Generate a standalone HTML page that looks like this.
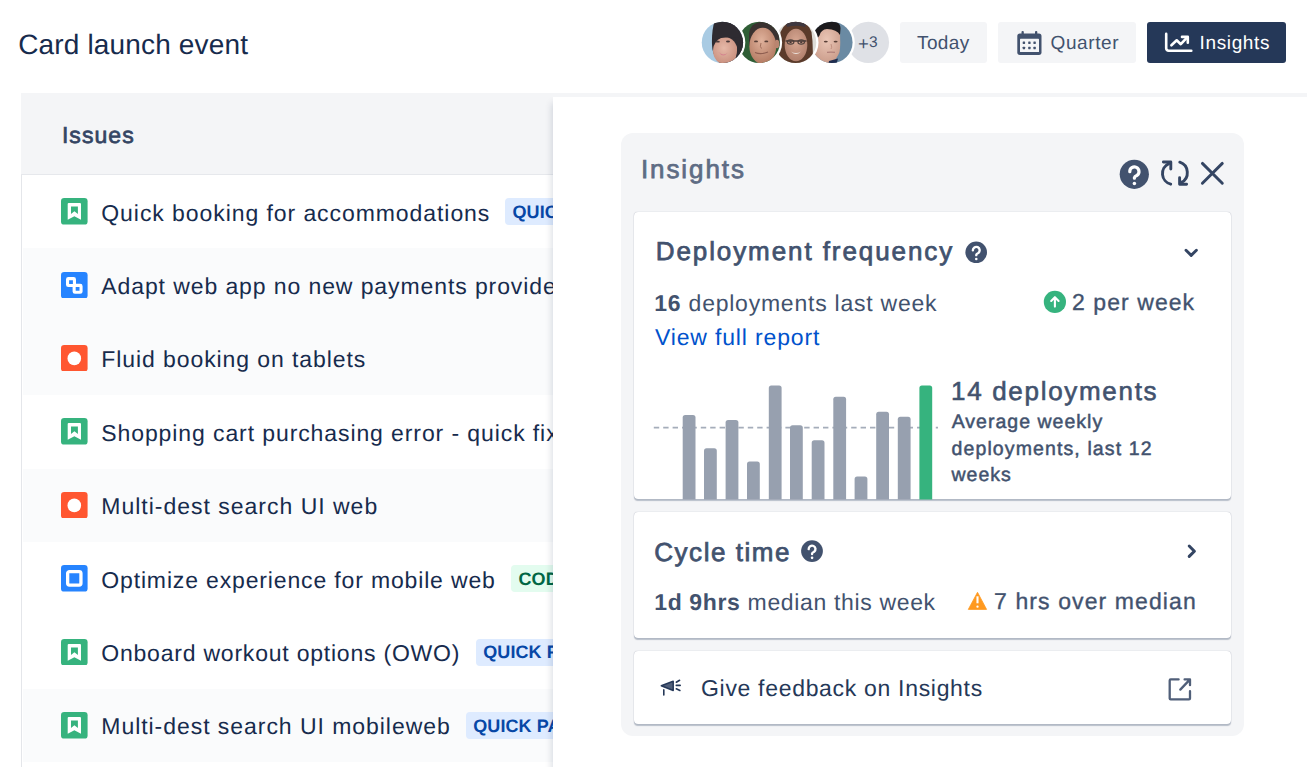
<!DOCTYPE html>
<html><head><meta charset="utf-8">
<style>
*{box-sizing:border-box;margin:0;padding:0}
html,body{width:1307px;height:767px;overflow:hidden;background:#fff}
body{position:relative;text-rendering:geometricPrecision;font-family:"Liberation Sans",Arial,sans-serif;color:#172B4D}
.a{position:absolute;white-space:nowrap}
.t{position:absolute;white-space:nowrap;line-height:1}
.btn{position:absolute;top:22px;height:41.4px;border-radius:3px;background:#F4F5F7}
#list{position:absolute;left:21px;top:93px;width:1286px;height:674px;border-left:1.5px solid #E4E6EA;background:#fff}
#lhead{position:absolute;left:21px;top:93px;width:1286px;height:82px;background:#F4F5F7;border-bottom:1.8px solid #E6E8EC}
.rowbg{position:absolute;left:22.5px;width:540px;height:73.4px;background:#FAFBFC}
.loz{position:absolute;width:160px;height:27px;border-radius:4px;background:#DEEBFF;color:#0747A6;font-weight:bold;font-size:18px;line-height:1}
.loz.green{background:#E3FCEF;color:#006644}
.loz span{position:absolute;white-space:nowrap;top:4.8px;left:7.5px;letter-spacing:0.1px}
#rp{position:absolute;left:553px;top:97px;width:760px;height:680px;background:#fff}
#rpsh{position:absolute;left:533px;top:97px;width:20px;height:680px;overflow:hidden}
#rpsh div{position:absolute;left:20px;top:6px;width:50px;height:700px;box-shadow:-1px 0 7px rgba(9,30,66,0.16)}
#ins{position:absolute;left:621px;top:132.6px;width:622.8px;height:603.4px;background:#F4F5F7;border-radius:12px}
.card{position:absolute;left:634px;width:596.8px;background:#fff;border-radius:4px;box-shadow:0 1.5px 1px rgba(9,30,66,0.25),0 0 1px rgba(9,30,66,0.35)}
</style></head><body>
<div class="t" style="left:18.20px;top:31.30px;font-size:28px;letter-spacing:0.156px;color:#172B4D;">Card launch event</div>

<!-- avatars -->
<svg class="a" style="left:698px;top:17px" width="196" height="50" viewBox="698 17 196 50">
  <defs>
    <clipPath id="c1"><circle cx="722.4" cy="42.4" r="20.65"/></clipPath>
    <clipPath id="c2"><circle cx="759.2" cy="42.4" r="20.65"/></clipPath>
    <clipPath id="c3"><circle cx="795.6" cy="42.4" r="20.65"/></clipPath>
    <clipPath id="c4"><circle cx="831.9" cy="42.4" r="20.65"/></clipPath>
    <radialGradient id="sk1" cx="0.45" cy="0.4" r="0.6"><stop offset="0" stop-color="#E6B9A8"/><stop offset="1" stop-color="#C98F7E"/></radialGradient>
    <radialGradient id="sk2" cx="0.45" cy="0.35" r="0.65"><stop offset="0" stop-color="#E0B29C"/><stop offset="1" stop-color="#B37A62"/></radialGradient>
    <radialGradient id="sk3" cx="0.5" cy="0.4" r="0.6"><stop offset="0" stop-color="#D8A893"/><stop offset="1" stop-color="#B07F6C"/></radialGradient>
    <radialGradient id="sk4" cx="0.5" cy="0.35" r="0.65"><stop offset="0" stop-color="#EAC6B6"/><stop offset="1" stop-color="#C99A88"/></radialGradient>
  </defs>
  <circle cx="868.4" cy="42.4" r="20.65" fill="#DFE1E6"/>
  <circle cx="831.9" cy="42.4" r="22.9" fill="#fff"/>
  <g clip-path="url(#c4)">
    <rect x="810" y="20" width="45" height="45" fill="#6A8AA3"/>
    <path d="M813 64 L813 38 Q814 29 820 27 L839.5 27 Q841 45 839.5 52 Q836 61 829 65 Z" fill="url(#sk4)"/>
    <path d="M813.5 37 Q812.5 28 817 24.5 Q825 20.5 835 21.5 Q841 23.5 840.5 29 L840 35 Q837 29.5 827 29 Q821 29.5 819.5 35.5 L816 40 Z" fill="#1C1A1D"/>
    <ellipse cx="825.8" cy="41.6" rx="2" ry="0.9" fill="#5A4038"/>
    <ellipse cx="835.6" cy="41.6" rx="2" ry="0.9" fill="#5A4038"/>
    <path d="M831 44 Q832.5 48 831 49" stroke="#C08F80" stroke-width="1" fill="none"/>
    <path d="M827 52.4 Q831 51.8 835 52.4" stroke="#B07F78" stroke-width="1.2" fill="none"/>
    <path d="M829 61 L838 58.5 L836 66 L828 66Z" fill="#1F2D4F"/>
  </g>
  <circle cx="795.6" cy="42.4" r="22.9" fill="#fff"/>
  <g clip-path="url(#c3)">
    <rect x="773" y="20" width="45" height="45" fill="#DEDCD7"/>
    <path d="M779.5 64 Q778 45 780.5 32 Q784.5 21.5 796 21 Q808.5 21.5 811.5 32 Q813.5 45 812.5 64 Z" fill="#5A3A2A"/>
    <path d="M786 23.5 Q796 19.5 806 23.5 L805 27 Q796 24.5 787 27Z" fill="#3E3840"/>
    <ellipse cx="796" cy="45" rx="11.3" ry="16.2" fill="url(#sk3)"/>
    <path d="M785.5 41 H806.5" stroke="#4A3A36" stroke-width="1.6"/>
    <ellipse cx="790.6" cy="42" rx="3.3" ry="2.1" fill="none" stroke="#4E403C" stroke-width="1.1"/>
    <ellipse cx="801.2" cy="42" rx="3.3" ry="2.1" fill="none" stroke="#4E403C" stroke-width="1.1"/>
    <ellipse cx="790.6" cy="42.2" rx="1.2" ry="0.8" fill="#3A2E2E"/>
    <ellipse cx="801.2" cy="42.2" rx="1.2" ry="0.8" fill="#3A2E2E"/>
    <path d="M791 51.5 Q796 54.5 801 51.5 Q796 56.5 791 51.5Z" fill="#EDE3DD"/>
  </g>
  <circle cx="759.2" cy="42.4" r="22.9" fill="#fff"/>
  <g clip-path="url(#c2)">
    <rect x="737" y="20" width="45" height="45" fill="#2F5E36"/>
    <path d="M749 34 Q750 22.5 762 22 Q776 22.5 779 34 L779.5 46 L749 46Z" fill="#3A3230"/>
    <ellipse cx="762.8" cy="46" rx="13.4" ry="18.2" fill="url(#sk2)"/>
    <ellipse cx="777" cy="44" rx="2.3" ry="4.2" fill="#B98570"/>
    <ellipse cx="756" cy="41.4" rx="2" ry="0.9" fill="#5A4038"/>
    <ellipse cx="766.3" cy="41.4" rx="2" ry="0.9" fill="#5A4038"/>
    <path d="M761 43 Q759.5 47 761.5 48.5" stroke="#A06E5C" stroke-width="1" fill="none"/>
    <path d="M755 52.5 Q761 55 768 52" stroke="#8E5E50" stroke-width="1.1" fill="none"/>
  </g>
  <circle cx="722.4" cy="42.4" r="22.9" fill="#fff"/>
  <g clip-path="url(#c1)">
    <rect x="700" y="20" width="45" height="45" fill="#A9CBE3"/>
    <path d="M714.7 21 C711.5 30 711.5 44 712.6 50 C714 56 717 61 722 65 L746 65 L746 20 Z" fill="#2E2B31"/>
    <ellipse cx="725.2" cy="50.8" rx="12.2" ry="13.6" fill="url(#sk1)"/>
    <path d="M712.5 40 Q714 23 727 22 Q739 23 739.5 38 L737 37.6 Q726 35.5 714 39.5 Z" fill="#2E2B31"/>
    <path d="M735.6 38 Q738.6 48 735.8 58 L746 58 L746 38 Z" fill="#2E2B31"/>
    <ellipse cx="717.8" cy="41.7" rx="2" ry="0.9" fill="#4A3A3A"/>
    <ellipse cx="728" cy="41.5" rx="2" ry="0.9" fill="#4A3A3A"/>
    <path d="M718.5 52 Q723 56.5 728 52.5 Q723 58.5 718.5 52Z" fill="#D4828F"/>
  </g>
</svg>

<div class="t" style="left:859.40px;top:34.90px;font-size:15.5px;letter-spacing:0.500px;color:#42526E;"><span style="display:inline-block;transform:translate(0px,1.9px) scale(1.2)">+</span>3</div>

<!-- buttons -->
<div class="btn" style="left:900px;width:86.5px"></div>
<div class="btn" style="left:997.5px;width:138px"></div>
<div class="btn" style="left:1146.5px;width:139.7px;background:#253858"></div>
<svg class="a" style="left:0;top:0" width="1307" height="70" viewBox="0 0 1307 70">
  <rect x="1017.3" y="33.4" width="24.2" height="21.5" rx="2.6" fill="#42526E"/>
  <rect x="1020" y="38.7" width="19" height="13.4" rx="0.6" fill="#F4F5F7"/>
  <rect x="1021.5" y="30.9" width="2.3" height="5" rx="1" fill="#42526E"/>
  <rect x="1035" y="30.9" width="2.3" height="5" rx="1" fill="#42526E"/>
  <g fill="#42526E"><rect x="1022.7" y="41.6" width="2.4" height="2.4" rx="0.4"/><rect x="1028.2" y="41.6" width="2.4" height="2.4" rx="0.4"/><rect x="1033.4" y="41.6" width="2.4" height="2.4" rx="0.4"/><rect x="1022.7" y="46.8" width="2.4" height="2.4" rx="0.4"/><rect x="1028.2" y="46.8" width="2.4" height="2.4" rx="0.4"/><rect x="1033.4" y="46.8" width="2.4" height="2.4" rx="0.4"/></g>
  <g fill="none" stroke="#fff" stroke-width="2.6" stroke-linecap="round" stroke-linejoin="round">
    <path d="M1166.2 33.9 V48.3 a2.4 2.4 0 0 0 2.4 2.4 H1191.3"/>
    <path d="M1171.4 45.3 L1176.7 40.3 L1180.8 44.2 L1187.2 37.3"/>
    <path d="M1182 36.9 H1187.8 V42.8"/>
  </g>
</svg>
<div class="t" style="left:917.00px;top:33.90px;font-size:19px;letter-spacing:0.400px;color:#42526E;">Today</div>
<div class="t" style="left:1050.50px;top:33.90px;font-size:19px;letter-spacing:0.617px;color:#42526E;">Quarter</div>
<div class="t" style="left:1199.50px;top:33.90px;font-size:19px;letter-spacing:0.643px;color:#FFFFFF;">Insights</div>

<!-- list -->
<div id="list"></div>
<svg class="a" style="left:61px;top:198.2px" width="26.6" height="26.6" viewBox="0 0 26.6 26.6"><rect width="26.6" height="26.6" rx="3.2" fill="#36B37E"/><path fill="#fff" fill-rule="evenodd" d="M7.7 5.1H19a1 1 0 0 1 1 1V21.7L13.4 18.2L6.7 21.7V6.1a1 1 0 0 1 1-1ZM10 8.4V16.1L13.4 13.2L16.9 16.1V8.4Z"/></svg>
<div class="t" style="left:101.30px;top:201.55px;font-size:23px;letter-spacing:0.929px;color:#172B4D;">Quick booking for accommodations</div>
<div class="loz" style="left:505px;top:198.3px"><span>QUICK BOOKING</span></div>
<div class="rowbg" style="top:248.4px"></div>
<svg class="a" style="left:61px;top:271.6px" width="26.6" height="26.6" viewBox="0 0 26.6 26.6"><rect width="26.6" height="26.6" rx="3.2" fill="#2684FF"/><g fill="none" stroke="#fff" stroke-width="3.1"><rect x="6.55" y="6.65" width="6.9" height="6.9" rx="0.8"/><rect x="13.15" y="13.35" width="6.9" height="6.9" rx="0.8"/></g></svg>
<div class="t" style="left:101.30px;top:274.95px;font-size:23px;letter-spacing:0.903px;color:#172B4D;">Adapt web app no new payments provider</div>
<div class="rowbg" style="top:321.8px"></div>
<svg class="a" style="left:61px;top:344.9px" width="26.6" height="26.6" viewBox="0 0 26.6 26.6"><rect width="26.6" height="26.6" rx="3.2" fill="#FF5630"/><circle cx="13.3" cy="13.4" r="6.8" fill="#fff"/></svg>
<div class="t" style="left:101.30px;top:348.35px;font-size:23px;letter-spacing:0.917px;color:#172B4D;">Fluid booking on tablets</div>
<svg class="a" style="left:61px;top:418.4px" width="26.6" height="26.6" viewBox="0 0 26.6 26.6"><rect width="26.6" height="26.6" rx="3.2" fill="#36B37E"/><path fill="#fff" fill-rule="evenodd" d="M7.7 5.1H19a1 1 0 0 1 1 1V21.7L13.4 18.2L6.7 21.7V6.1a1 1 0 0 1 1-1ZM10 8.4V16.1L13.4 13.2L16.9 16.1V8.4Z"/></svg>
<div class="t" style="left:101.30px;top:421.75px;font-size:23px;letter-spacing:0.903px;color:#172B4D;">Shopping cart purchasing error - quick fix</div>
<div class="rowbg" style="top:468.6px"></div>
<svg class="a" style="left:61px;top:491.8px" width="26.6" height="26.6" viewBox="0 0 26.6 26.6"><rect width="26.6" height="26.6" rx="3.2" fill="#FF5630"/><circle cx="13.3" cy="13.4" r="6.8" fill="#fff"/></svg>
<div class="t" style="left:101.30px;top:495.15px;font-size:23px;letter-spacing:0.991px;color:#172B4D;">Multi-dest search UI web</div>
<svg class="a" style="left:61px;top:565.1px" width="26.6" height="26.6" viewBox="0 0 26.6 26.6"><rect width="26.6" height="26.6" rx="3.2" fill="#2684FF"/><rect x="6.65" y="6.55" width="13.3" height="13.5" rx="1.8" fill="none" stroke="#fff" stroke-width="3.3"/></svg>
<div class="t" style="left:101.30px;top:568.55px;font-size:23px;letter-spacing:0.848px;color:#172B4D;">Optimize experience for mobile web</div>
<div class="loz green" style="left:511px;top:565.3px"><span>CODE REVIEW</span></div>
<svg class="a" style="left:61px;top:638.6px" width="26.6" height="26.6" viewBox="0 0 26.6 26.6"><rect width="26.6" height="26.6" rx="3.2" fill="#36B37E"/><path fill="#fff" fill-rule="evenodd" d="M7.7 5.1H19a1 1 0 0 1 1 1V21.7L13.4 18.2L6.7 21.7V6.1a1 1 0 0 1 1-1ZM10 8.4V16.1L13.4 13.2L16.9 16.1V8.4Z"/></svg>
<div class="t" style="left:101.30px;top:641.95px;font-size:23px;letter-spacing:0.782px;color:#172B4D;">Onboard workout options (OWO)</div>
<div class="loz" style="left:475.7px;top:638.7px"><span>QUICK FIX</span></div>
<div class="rowbg" style="top:688.8px"></div>
<svg class="a" style="left:61px;top:712.0px" width="26.6" height="26.6" viewBox="0 0 26.6 26.6"><rect width="26.6" height="26.6" rx="3.2" fill="#36B37E"/><path fill="#fff" fill-rule="evenodd" d="M7.7 5.1H19a1 1 0 0 1 1 1V21.7L13.4 18.2L6.7 21.7V6.1a1 1 0 0 1 1-1ZM10 8.4V16.1L13.4 13.2L16.9 16.1V8.4Z"/></svg>
<div class="t" style="left:101.30px;top:715.35px;font-size:23px;letter-spacing:0.952px;color:#172B4D;">Multi-dest search UI mobileweb</div>
<div class="loz" style="left:465.7px;top:712.1px"><span>QUICK PAYMENTS</span></div>
<div id="lhead"></div>
<div class="t" style="left:61.90px;top:124.10px;font-size:23px;letter-spacing:1.060px;color:#344563;-webkit-text-stroke:0.7px #344563;">Issues</div>

<!-- right panel -->
<div id="rpsh"><div></div></div>
<div id="rp"></div>
<div id="ins"></div>
<div class="t" style="left:640.90px;top:156.10px;font-size:26px;letter-spacing:1.929px;color:#5E6C84;-webkit-text-stroke:0.75px #5E6C84;">Insights</div>
<svg class="a" style="left:0;top:0" width="1307" height="767" viewBox="0 0 1307 767">
  <circle cx="1134.3" cy="174.3" r="14.6" fill="#42526E"/>
  <g transform="translate(1134.3 174.3) scale(1)"><path d="M-4.5 -2.6A4.6 4.6 0 1 1 2.9 0.9Q0.2 2.2 0.1 3.4V3.9" fill="none" stroke="#fff" stroke-width="3.2" stroke-linecap="round" stroke-linejoin="round"/><circle cx="0.1" cy="9.1" r="1.75" fill="#fff"/></g>
  <g fill="none" stroke="#344563" stroke-width="2.9" stroke-linecap="round" stroke-linejoin="round">
    <path d="M1170.7 184.2 A11 11 0 0 1 1168.8 163.6"/>
    <path d="M1163.4 162 H1170.8 V169"/>
    <path d="M1179.8 162.2 A11 11 0 0 1 1181.4 182.4"/>
    <path d="M1179.6 177.7 V184.3 H1186.6"/>
    <path d="M1202.4 163.4 L1222.3 183.2 M1222.3 163.4 L1202.4 183.2"/>
  </g>
</svg>
<div class="card" style="top:212.2px;height:287.3px"></div>
<div class="card" style="top:511.9px;height:126.3px"></div>
<div class="card" style="top:650.7px;height:73.3px"></div>
<svg class="a" style="left:0;top:0" width="1307" height="767" viewBox="0 0 1307 767">
  <line x1="653.8" y1="427.6" x2="938" y2="427.6" stroke="#A5ADBA" stroke-width="1.6" stroke-dasharray="5.4 4"/>
  <path d="M682.7 499.5V417.6a2.5 2.5 0 0 1 2.5 -2.5h7.8a2.5 2.5 0 0 1 2.5 2.5V499.5Z" fill="#97A0AF"/><path d="M704.0 499.5V450.8a2.5 2.5 0 0 1 2.5 -2.5h7.8a2.5 2.5 0 0 1 2.5 2.5V499.5Z" fill="#97A0AF"/><path d="M725.6 499.5V422.5a2.5 2.5 0 0 1 2.5 -2.5h7.8a2.5 2.5 0 0 1 2.5 2.5V499.5Z" fill="#97A0AF"/><path d="M747.0 499.5V464.1a2.5 2.5 0 0 1 2.5 -2.5h7.8a2.5 2.5 0 0 1 2.5 2.5V499.5Z" fill="#97A0AF"/><path d="M768.8 499.5V387.9a2.5 2.5 0 0 1 2.5 -2.5h7.8a2.5 2.5 0 0 1 2.5 2.5V499.5Z" fill="#97A0AF"/><path d="M790.0 499.5V427.8a2.5 2.5 0 0 1 2.5 -2.5h7.8a2.5 2.5 0 0 1 2.5 2.5V499.5Z" fill="#97A0AF"/><path d="M811.7 499.5V442.7a2.5 2.5 0 0 1 2.5 -2.5h7.8a2.5 2.5 0 0 1 2.5 2.5V499.5Z" fill="#97A0AF"/><path d="M833.3 499.5V399.3a2.5 2.5 0 0 1 2.5 -2.5h7.8a2.5 2.5 0 0 1 2.5 2.5V499.5Z" fill="#97A0AF"/><path d="M854.6 499.5V479.0a2.5 2.5 0 0 1 2.5 -2.5h7.8a2.5 2.5 0 0 1 2.5 2.5V499.5Z" fill="#97A0AF"/><path d="M876.2 499.5V414.2a2.5 2.5 0 0 1 2.5 -2.5h7.8a2.5 2.5 0 0 1 2.5 2.5V499.5Z" fill="#97A0AF"/><path d="M897.8 499.5V419.2a2.5 2.5 0 0 1 2.5 -2.5h7.8a2.5 2.5 0 0 1 2.5 2.5V499.5Z" fill="#97A0AF"/><path d="M919.4 499.5V387.9a2.5 2.5 0 0 1 2.5 -2.5h7.8a2.5 2.5 0 0 1 2.5 2.5V499.5Z" fill="#36B37E"/>
  <circle cx="976.2" cy="252.3" r="10.8" fill="#42526E"/>
  <g transform="translate(976.2 252.3) scale(0.74)"><path d="M-4.5 -2.6A4.6 4.6 0 1 1 2.9 0.9Q0.2 2.2 0.1 3.4V3.9" fill="none" stroke="#fff" stroke-width="3.2" stroke-linecap="round" stroke-linejoin="round"/><circle cx="0.1" cy="9.1" r="1.75" fill="#fff"/></g>
  <circle cx="812" cy="551.1" r="10.9" fill="#42526E"/>
  <g transform="translate(812 551.1) scale(0.74)"><path d="M-4.5 -2.6A4.6 4.6 0 1 1 2.9 0.9Q0.2 2.2 0.1 3.4V3.9" fill="none" stroke="#fff" stroke-width="3.2" stroke-linecap="round" stroke-linejoin="round"/><circle cx="0.1" cy="9.1" r="1.75" fill="#fff"/></g>
  <path d="M1186 250.2 L1191.2 255.4 L1196.4 250.2" fill="none" stroke="#344563" stroke-width="2.9" stroke-linecap="round" stroke-linejoin="round"/>
  <path d="M1189.2 546 L1194.4 551.2 L1189.2 556.4" fill="none" stroke="#344563" stroke-width="3" stroke-linecap="round" stroke-linejoin="round"/>
  <circle cx="1054.9" cy="301.9" r="11.1" fill="#36B37E"/>
  <path d="M1054.9 306.6 V297.4 M1051.2 300.9 L1054.9 297.2 L1058.6 300.9" fill="none" stroke="#fff" stroke-width="2.1" stroke-linecap="round" stroke-linejoin="round"/>
  <path d="M977.5 592.3 L986.6 609.4 H968.3 Z" fill="#FF991F" stroke="#FF991F" stroke-width="0.8" stroke-linejoin="round"/>
  <path d="M977.5 596.3 V603.3" stroke="#fff" stroke-width="2.1"/>
  <circle cx="977.5" cy="606.7" r="1.15" fill="#fff"/>
  <path d="M661.3 685.8 L673.2 681.3 V690.5 Z" fill="#505F79" stroke="#253858" stroke-width="1.5" stroke-linejoin="round"/>
  <g stroke="#253858" stroke-width="1.6" stroke-linecap="round" fill="none">
    <path d="M663.8 689.9 V695"/>
    <path d="M676.3 682.2 L679.6 680.3 M676.3 685.4 H680.2 M676.3 688.8 L679.9 690.4"/>
  </g>
  <g fill="none" stroke="#505F79" stroke-width="2.3" stroke-linecap="round" stroke-linejoin="round">
    <path d="M1178.6 679.4 H1170.7 a1 1 0 0 0 -1 1 V698.4 a1 1 0 0 0 1 1 H1189 a1 1 0 0 0 1 -1 V691.2"/>
    <path d="M1180.3 689.6 L1189.8 679.6 M1184.6 679.4 H1190 V685.2"/>
  </g>
</svg>
<div class="t" style="left:655.70px;top:237.90px;font-size:26px;letter-spacing:1.916px;color:#42526E;-webkit-text-stroke:0.75px #42526E;">Deployment frequency</div>
<div class="t" style="left:654.30px;top:292.10px;font-size:23px;letter-spacing:0.765px;color:#42526E;"><b>16</b> deployments last week</div>
<div class="t" style="left:1072.00px;top:291.20px;font-size:23px;letter-spacing:1.067px;color:#42526E;-webkit-text-stroke:0.35px #42526E;">2 per week</div>
<div class="t" style="left:654.90px;top:325.90px;font-size:23px;letter-spacing:0.853px;color:#0052CC;">View full report</div>
<div class="t" style="left:951.00px;top:378.00px;font-size:26px;letter-spacing:1.692px;color:#42526E;-webkit-text-stroke:0.6px #42526E;">14 deployments</div>
<div class="t" style="left:951.70px;top:412.50px;font-size:19.5px;letter-spacing:1.015px;color:#42526E;-webkit-text-stroke:0.5px #42526E;">Average weekly</div>
<div class="t" style="left:951.50px;top:439.80px;font-size:19.5px;letter-spacing:1.116px;color:#42526E;-webkit-text-stroke:0.5px #42526E;">deployments, last 12</div>
<div class="t" style="left:951.50px;top:465.70px;font-size:19.5px;letter-spacing:1.025px;color:#42526E;-webkit-text-stroke:0.5px #42526E;">weeks</div>
<div class="t" style="left:654.20px;top:538.60px;font-size:26px;letter-spacing:1.556px;color:#42526E;-webkit-text-stroke:0.75px #42526E;">Cycle time</div>
<div class="t" style="left:654.20px;top:591.10px;font-size:23px;letter-spacing:0.652px;color:#42526E;"><b>1d 9hrs</b> median this week</div>
<div class="t" style="left:994.10px;top:590.00px;font-size:23px;letter-spacing:1.094px;color:#42526E;-webkit-text-stroke:0.35px #42526E;">7 hrs over median</div>
<div class="t" style="left:701.00px;top:677.40px;font-size:23px;letter-spacing:0.688px;color:#253858;">Give feedback on Insights</div>
</body></html>
